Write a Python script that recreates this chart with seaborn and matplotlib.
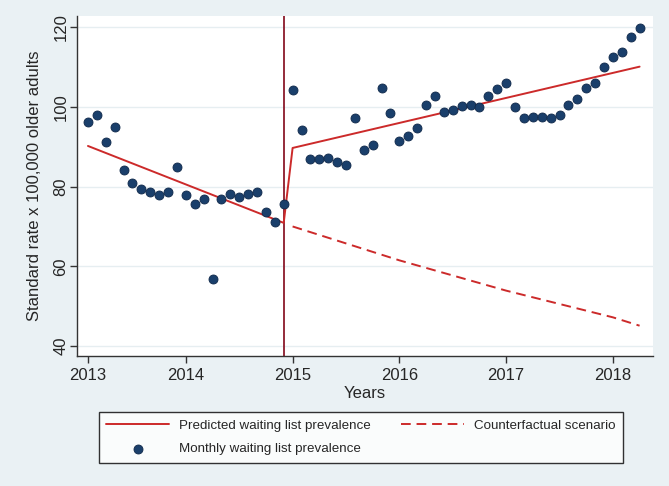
import numpy as np
import pandas as pd
import seaborn as sns
import matplotlib.pyplot as plt

# Monthly observations, month index 0 = Jan 2013
monthly_rate = [96.3, 97.9, 91.2, 94.9, 84.1, 81.0, 79.3, 78.6, 78.0, 78.6,
                84.9, 78.0, 75.6, 77.0, 56.8, 77.0, 78.1, 77.4, 78.1, 78.7,
                73.7, 71.0, 75.6, 104.2, 94.2, 86.9, 86.9, 87.3, 86.1, 85.3,
                97.2, 89.3, 90.5, 104.8, 98.4, 91.5, 92.8, 94.7, 100.4, 102.8,
                98.6, 99.2, 100.2, 100.6, 100.0, 102.8, 104.5, 106.1, 100.0, 97.2,
                97.5, 97.4, 97.1, 98.0, 100.6, 101.9, 104.8, 106.1, 110.1, 112.4,
                113.7, 117.6, 119.7]

# Predicted segments (pre / post intervention)
pred_month = [0, 22, 23, 62]
pred_rate = [90.2, 70.9, 89.7, 110.1]

# Counterfactual scenario
cf_month = [23, 35, 47, 59, 62]
cf_rate = [70.0, 61.5, 53.9, 47.2, 45.1]

intervention_month = 22
year_ticks = [0, 11, 23, 35, 47, 59]
year_labels = ["2013", "2014", "2015", "2016", "2017", "2018"]
y_ticks = [40, 60, 80, 100, 120]

obs = pd.DataFrame({"month": np.arange(len(monthly_rate)), "rate": monthly_rate})
pred = pd.DataFrame({"month": pred_month, "rate": pred_rate})
cf = pd.DataFrame({"month": cf_month, "rate": cf_rate})

sns.set_style("white")
plt.rcParams["font.family"] = ["Liberation Sans", "DejaVu Sans"]

bg = "#eaf1f4"
red = "#cc2a2a"
navy = "#1a3f6b"

fig = plt.figure(figsize=(6.69, 4.86), dpi=100, facecolor=bg)
ax = fig.add_axes([0.115, 0.2675, 0.861, 0.6995])
ax.set_facecolor("white")

ax.axvline(intervention_month, color="#8b1a2b", lw=1.3, zorder=2)
sns.lineplot(data=pred, x="month", y="rate", color=red, lw=1.4, ax=ax,
             label="Predicted waiting list prevalence", zorder=3)
sns.scatterplot(data=obs, x="month", y="rate", color=navy, s=42,
                edgecolor="#10294a", linewidth=0.6, ax=ax,
                label="Monthly waiting list prevalence", zorder=4)
sns.lineplot(data=cf, x="month", y="rate", color=red, lw=1.4, ax=ax,
             linestyle=(0, (5, 3)), label="Counterfactual scenario", zorder=3)

ax.set_xlim(-1.24, 63.5)
ax.set_ylim(37.5, 122.8)
ax.set_xticks(year_ticks)
ax.set_xticklabels(year_labels)
ax.set_yticks(y_ticks)
ax.set_yticklabels([str(v) for v in y_ticks], rotation=90, va="center")
ax.tick_params(axis="both", direction="out", length=5, width=1, color="#333333",
               labelsize=12, left=True, bottom=True)
ax.tick_params(axis="y", pad=1)
ax.grid(axis="y", color="#e6eef1", lw=1)
ax.grid(axis="x", visible=False)

for side in ["top", "right"]:
    ax.spines[side].set_visible(False)
for side in ["left", "bottom"]:
    ax.spines[side].set_color("#333333")
    ax.spines[side].set_linewidth(1)

ax.set_xlabel("Years", fontsize=12, labelpad=2)
ax.set_ylabel("Standard rate x 100,000 older adults", fontsize=12, labelpad=8)

handles, labels = ax.get_legend_handles_labels()
ax.get_legend().remove()
leg = fig.legend(handles, labels,
                 loc="upper left", bbox_to_anchor=(0.148, 0.152),
                 ncol=2, fontsize=9.6, frameon=True,
                 fancybox=False, edgecolor="black", handlelength=4.7,
                 borderaxespad=0, borderpad=0.55, labelspacing=0.83,
                 columnspacing=2.3, handletextpad=0.75)
leg.get_frame().set_linewidth(1)
leg.get_frame().set_facecolor("white")

fig.savefig("out.png", dpi=100, facecolor=bg)
